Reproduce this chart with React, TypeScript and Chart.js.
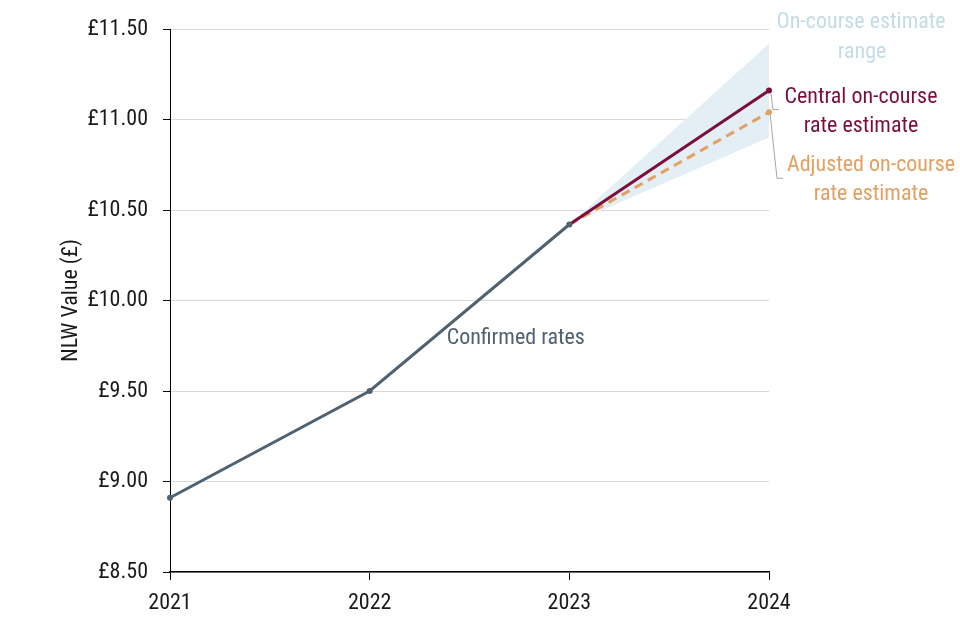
import React, { useEffect, useRef } from "react";
import { Chart, registerables } from "chart.js";

Chart.register(...registerables);

const years = ["2021", "2022", "2023", "2024"];
const confirmedRates = [8.91, 9.5, 10.42, null];
const centralEstimate = [null, null, 10.42, 11.16];
const adjustedEstimate = [null, null, 10.42, 11.04];
const rangeUpper = [null, null, 10.42, 11.42];
const rangeLower = [null, null, 10.42, 10.9];
const yTitle = "NLW Value (£)";

const FONT = '"Liberation Sans Narrow", "Arial Narrow", "Roboto Condensed", "DejaVu Sans Condensed", sans-serif';

const annotationPlugin = {
  id: "annots",
  afterDatasetsDraw(chart: any) {
    const ctx = chart.ctx;
    const xs = chart.scales.x;
    const ys = chart.scales.y;
    const x4 = xs.getPixelForValue(3);
    const yc = ys.getPixelForValue(centralEstimate[3] as number);
    const ya = ys.getPixelForValue(adjustedEstimate[3] as number);
    ctx.save();
    // leader lines
    ctx.strokeStyle = "#a6a6a6";
    ctx.lineWidth = 1;
    ctx.beginPath();
    ctx.moveTo(x4 + 2, yc + 3);
    ctx.lineTo(x4 + 4, yc + 19);
    ctx.lineTo(x4 + 10, yc + 19);
    ctx.moveTo(x4 + 1, ya + 1);
    ctx.lineTo(x4 + 8, ya + 66);
    ctx.lineTo(x4 + 14, ya + 66);
    ctx.stroke();

    ctx.font = `22px ${FONT}`;
    ctx.textAlign = "center";
    ctx.textBaseline = "middle";
    ctx.fillStyle = "#c4dce6";
    ctx.fillText("On-course estimate", x4 + 92, 22);
    ctx.fillText("range", x4 + 93, 52);
    ctx.fillStyle = "#7b0f3c";
    ctx.fillText("Central on-course", x4 + 92, yc + 7);
    ctx.fillText("rate estimate", x4 + 92, yc + 36);
    ctx.fillStyle = "#e3a062";
    ctx.fillText("Adjusted on-course", x4 + 102, ya + 53);
    ctx.fillText("rate estimate", x4 + 102, ya + 82);
    ctx.fillStyle = "#4f6272";
    ctx.textAlign = "left";
    const xm = xs.getPixelForValue(1);
    ctx.fillText("Confirmed rates", xm + 77, ys.getPixelForValue(9.79));
    ctx.restore();
  },
};

export default function App() {
  const ref = useRef<HTMLCanvasElement | null>(null);
  useEffect(() => {
    document.body.style.margin = "0";
    const chart = new Chart(ref.current as HTMLCanvasElement, {
      type: "line",
      data: {
        labels: years,
        datasets: [
          {
            label: "Confirmed rates",
            data: confirmedRates,
            borderColor: "#4f6272",
            backgroundColor: "#4f6272",
            borderWidth: 3,
            pointRadius: 3,
            pointBorderWidth: 0,
            fill: false,
          },
          {
            label: "Central on-course rate estimate",
            data: centralEstimate,
            borderColor: "#7b0f3c",
            backgroundColor: "#7b0f3c",
            borderWidth: 3,
            pointRadius: [0, 0, 0, 3],
            pointBorderWidth: 0,
            fill: false,
          },
          {
            label: "Adjusted on-course rate estimate",
            data: adjustedEstimate,
            borderColor: "#e3a062",
            backgroundColor: "#e3a062",
            borderWidth: 3,
            borderDash: [9, 6],
            pointRadius: [0, 0, 0, 3],
            pointBorderWidth: 0,
            fill: false,
          },
          {
            label: "Range upper",
            data: rangeUpper,
            borderWidth: 0,
            borderColor: "rgba(0,0,0,0)",
            pointRadius: 0,
            fill: false,
          },
          {
            label: "Range lower",
            data: rangeLower,
            borderWidth: 0,
            borderColor: "rgba(0,0,0,0)",
            backgroundColor: "#e4eef5",
            pointRadius: 0,
            fill: "-1",
          },
        ],
      },
      options: {
        responsive: false,
        animation: false,
        layout: { padding: { top: 29, right: 191, left: 0, bottom: 0 } },
        plugins: {
          legend: { display: false },
          tooltip: { enabled: false },
        },
        scales: {
          x: {
            type: "category",
            offset: false,
            grid: {
              drawOnChartArea: false,
              drawTicks: true,
              tickLength: 8,
              tickColor: "#000",
              tickWidth: 1,
            },
            border: { color: "#000", width: 1.5 },
            ticks: {
              color: "#1a1a1a",
              font: { family: FONT, size: 22 },
              padding: 10,
              maxRotation: 0,
            },
            afterFit: (s: any) => {
              s.height = 68;
            },
          },
          y: {
            min: 8.5,
            max: 11.5,
            grid: {
              color: "#d9d9d9",
              lineWidth: 1,
              tickLength: 7,
              tickColor: "#000",
            },
            border: { color: "#000", width: 1 },
            ticks: {
              stepSize: 0.5,
              color: "#1a1a1a",
              font: { family: FONT, size: 22 },
              padding: 15,
              callback: (v: any) => "£" + Number(v).toFixed(2),
            },
            title: {
              display: true,
              text: yTitle,
              color: "#1a1a1a",
              font: { family: FONT, size: 22 },
              padding: { top: 58, bottom: 0 },
            },
            afterFit: (s: any) => {
              s.width = 170;
            },
          },
        },
      },
      plugins: [annotationPlugin],
    });
    return () => chart.destroy();
  }, []);
  return <canvas ref={ref} width={960} height={640} style={{ display: "block" }} />;
}
